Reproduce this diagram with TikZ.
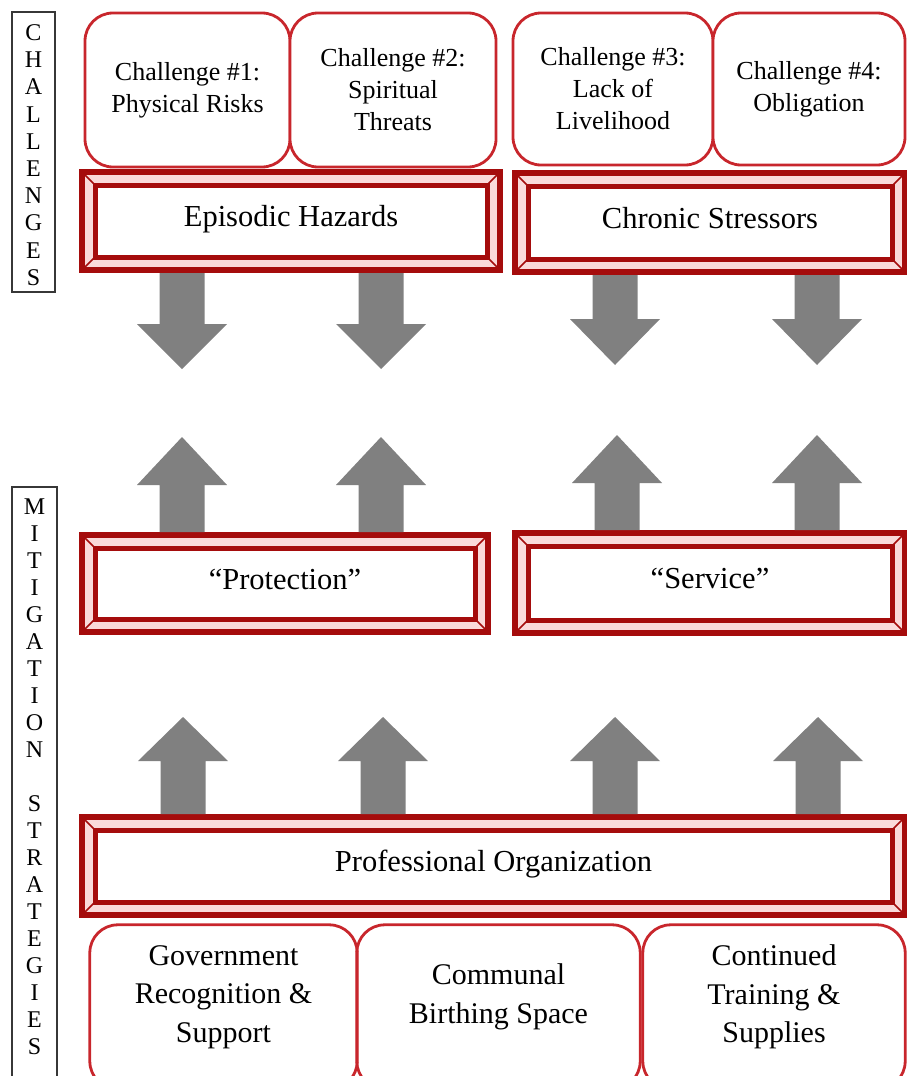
\documentclass[tikz,border=0pt]{standalone}
\usepackage{fontspec}
\setmainfont{Liberation Serif}
\definecolor{bevred}{RGB}{165,12,12}
\definecolor{bevpink}{RGB}{250,218,218}
\definecolor{rred}{RGB}{200,38,44}
\definecolor{agray}{RGB}{128,128,128}
\definecolor{lgray}{RGB}{55,55,55}
% #1 extra options, #2 start point, #3 length, #4 head length
\newcommand\blockarr[4][]{%
  \fill[agray, shift={#2}, #1] (-22.5,0) -- (22.5,0) -- (22.5,#3-#4) -- (45,#3-#4)
    -- (0,#3) -- (-45,#3-#4) -- (-22.5,#3-#4) -- cycle;}
\begin{document}
\begin{tikzpicture}[x=1pt,y=-1pt,
  vlab/.style={draw=lgray, line width=1.3pt, inner sep=0pt, align=center,
    font=\fontsize{24pt}{27.2pt}\selectfont},
  vtext/.style={inner sep=0pt, align=center, font=\fontsize{24pt}{27pt}\selectfont},
  rbox/.style={draw=rred, line width=2.8pt, rounded corners=28pt, fill=white,
    inner sep=0pt, align=center, font=\fontsize{26pt}{32pt}\selectfont},
  rtext/.style={inner sep=0pt, align=center, font=\fontsize{30pt}{38.5pt}\selectfont},
  routline/.style={draw=rred, line width=2.8pt, rounded corners=28pt},
  bevel/.style={draw=bevred, line width=6pt, fill=bevpink, inner sep=0pt,
    text height=20pt, text depth=9pt, font=\fontsize{30.5pt}{36pt}\selectfont,
    path picture={
      \draw[bevred, line width=5pt, fill=white]
        ([shift={(13,13)}]path picture bounding box.north west) rectangle
        ([shift={(-13,-13)}]path picture bounding box.south east);
      \draw[bevred, line width=1.6pt]
        (path picture bounding box.north west) -- ++(13,13)
        (path picture bounding box.north east) -- ++(-13,13)
        (path picture bounding box.south west) -- ++(13,-13)
        (path picture bounding box.south east) -- ++(-13,-13);
    }},
]
\useasboundingbox (0,0) rectangle (907,1076);
\clip (0,0) rectangle (907,1076);

% side labels
\node[vlab, minimum width=43pt, minimum height=280pt] (chal) at (33.5,152) {};
\node[vtext, font=\fontsize{24pt}{27.2pt}\selectfont] (chaltxt) at (33.5,155)
  {C\\H\\A\\L\\L\\E\\N\\G\\E\\S};
\node[vlab, minimum width=45pt, minimum height=600pt] (mit) at (34.5,787) {};
\node[vtext] (mittxt) at (34.5,777)
  {M\\I\\T\\I\\G\\A\\T\\I\\O\\N\\[27pt]S\\T\\R\\A\\T\\E\\G\\I\\E\\S};

% challenges
\node[rbox, minimum width=205pt, minimum height=154pt] (c1) at (187.5,90)
  {Challenge \#1:\\Physical Risks};
\node[rbox, minimum width=206pt, minimum height=154pt] (c2) at (393,90)
  {Challenge \#2:\\Spiritual\\Threats};
\node[rbox, minimum width=200pt, minimum height=152pt] (c3) at (613,89)
  {Challenge \#3:\\Lack of\\Livelihood};
\node[rbox, minimum width=192pt, minimum height=152pt] (c4) at (809,89)
  {Challenge \#4:\\Obligation};

% bevel boxes
\node[bevel, minimum width=418pt, minimum height=98pt] (epi) at (291,221) {Episodic Hazards};
\node[bevel, minimum width=390pt, minimum height=99pt] (chr) at (710,222.5) {Chronic Stressors};
\node[bevel, minimum width=406pt, minimum height=97pt] (prot) at (285,583.5) {“Protection”};
\node[bevel, minimum width=390pt, minimum height=100pt] (serv) at (710,583) {“Service”};
\node[bevel, minimum width=823pt, minimum height=98pt] (prof) at (493.5,866) {Professional Organization};

% strategies
\node[rtext, minimum width=267pt, minimum height=144pt] (gov) at (223.5,997)
  {Government\\Recognition \&\\Support};
\node[rtext, minimum width=283pt, minimum height=144pt] (com) at (498.5,997)
  {Communal\\Birthing Space};
\node[rtext, minimum width=262pt, minimum height=144pt] (cont) at (774,997)
  {Continued\\Training \&\\Supplies};
\draw[routline] (gov.north west) rectangle ([yshift=-20pt]gov.south east);
\draw[routline] (com.north west) rectangle ([yshift=-20pt]com.south east);
\draw[routline] (cont.north west) rectangle ([yshift=-20pt]cont.south east);

% block arrows: down from challenges
\blockarr{(182,0 |- epi.south)}{96}{45}
\blockarr{(381,0 |- epi.south)}{96}{45}
\blockarr{(615,0 |- chr.south)}{90}{46}
\blockarr{(817,0 |- chr.south)}{90}{46}
% up into the middle
\blockarr[yscale=-1]{(182,0 |- prot.north)}{95}{48}
\blockarr[yscale=-1]{(381,0 |- prot.north)}{95}{48}
\blockarr[yscale=-1]{(617,0 |- serv.north)}{95}{48}
\blockarr[yscale=-1]{(817,0 |- serv.north)}{95}{48}
% up from professional organization
\blockarr[yscale=-1]{(183,0 |- prof.north)}{97}{44}
\blockarr[yscale=-1]{(383,0 |- prof.north)}{97}{44}
\blockarr[yscale=-1]{(615,0 |- prof.north)}{97}{44}
\blockarr[yscale=-1]{(818,0 |- prof.north)}{97}{44}
\end{tikzpicture}
\end{document}
